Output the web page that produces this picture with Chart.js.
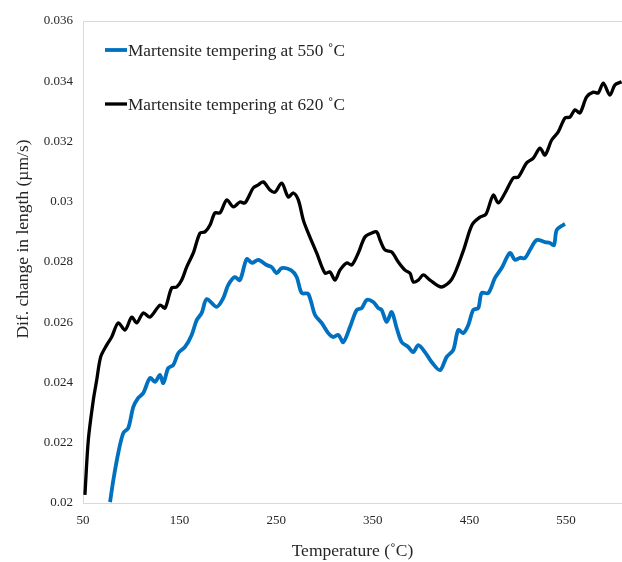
<!DOCTYPE html>
<html>
<head>
<meta charset="utf-8">
<script src="https://cdn.jsdelivr.net/npm/chart.js@4"></script>
<style>
  html, body { margin: 0; padding: 0; background: #fff; overflow: hidden; }
  #myChart { display: block; }
</style>
</head>
<body>
<canvas id="myChart" width="622" height="562"></canvas>
<script>
// temperature (°C) and dif. change in length (µm/s)
var temp550 = [78, 81.4, 86.5, 91.7, 96.9, 102.1, 107.2, 112.4, 119.4, 124.5, 129.7, 133.1, 138.3, 143.5, 148.7,
    155.6, 162.5, 167.7, 172.9, 178.1, 188.4, 195.2, 200.4, 207.3, 212.5, 219.5, 225, 231.5, 240.2, 245.3,
    250.5, 255.7, 265.3, 271.2, 276.4, 283.2, 290.2, 297.1, 303.9, 309.1, 314.3, 319.5, 326.4, 333.3, 338.5,
    343.7, 350.5, 355.7, 359.2, 364.4, 369.6, 374.7, 379.9, 386.7, 391.9, 397.1, 404, 410.9, 419.6, 426.5,
    433.3, 438.5, 443.7, 448.9, 454, 459.2, 462.7, 469.6, 476.5, 483.4, 492, 497.2, 502.4, 507.6, 512.7,
    519.7, 528.3, 533.4, 537.6, 540.4, 547.2, 549];
var len550 = [0.02003, 0.02076, 0.02166, 0.02232, 0.02249, 0.02319, 0.02349, 0.02365, 0.02415, 0.02402,
    0.02425, 0.02398, 0.02448, 0.02458, 0.02498, 0.02518, 0.02558, 0.02607, 0.02631, 0.02677,
    0.02651, 0.02680, 0.02724, 0.02750, 0.02740, 0.02810, 0.02797, 0.02807, 0.02790, 0.02783,
    0.02763, 0.02780, 0.02773, 0.02750, 0.02697, 0.02694, 0.02624, 0.02598, 0.02564, 0.02551,
    0.02558, 0.02534, 0.02584, 0.02641, 0.02647, 0.02674, 0.02667, 0.02647, 0.02641, 0.02601,
    0.02634, 0.02581, 0.02534, 0.02518, 0.02501, 0.02524, 0.02501, 0.02468, 0.02441, 0.02485,
    0.02508, 0.02574, 0.02564, 0.02591, 0.02641, 0.02647, 0.02697, 0.02697, 0.02747, 0.02780,
    0.02830, 0.02807, 0.02814, 0.02813, 0.02840, 0.02873, 0.02866, 0.02863, 0.02856, 0.02906,
    0.02923, 0.02926];

var temp620 = [52, 55.5, 60.7, 64.2, 68.3, 74.5, 79.7, 86.5, 93.5, 100.4, 105.6, 112.4, 119.4, 129.7, 134.9,
    141.8, 147, 152.2, 157.3, 164.2, 171.1, 176.3, 181.5, 186.6, 191.8, 198.8, 205.6, 212.5, 217.7, 226.3,
    231.5, 236.6, 243.6, 248.8, 255.7, 262.5, 267.7, 272.9, 278.1, 283.2, 291.9, 300.5, 305.7, 310.9, 316,
    323, 328.2, 335, 341.9, 348.9, 354, 357.5, 362.6, 369.6, 376.4, 383.3, 388.5, 391.9, 397.1, 402.3,
    409.2, 421.3, 432, 443.7, 452.7, 461, 467.2, 474.7, 479.9, 486.9, 495.4, 500.6, 509.3, 516.2, 523.1,
    528.3, 535.2, 542, 549, 554.1, 559.3, 564.5, 571.4, 578.3, 583.4, 588.6, 595.5, 600.7, 607.6];
var len620 = [0.02027, 0.02209, 0.02342, 0.02408, 0.02485, 0.02524, 0.02551, 0.02598, 0.02574, 0.02617,
    0.02598, 0.02631, 0.02617, 0.02657, 0.02647, 0.02714, 0.02717, 0.02740, 0.02783, 0.02830,
    0.02896, 0.02900, 0.02923, 0.02963, 0.02963, 0.03006, 0.02983, 0.02999, 0.02996, 0.03046,
    0.03056, 0.03066, 0.03039, 0.03032, 0.03062, 0.03016, 0.03029, 0.03006, 0.02939, 0.02896,
    0.02830, 0.02763, 0.02767, 0.02740, 0.02773, 0.02797, 0.02790, 0.02830, 0.02883, 0.02896,
    0.02900, 0.02873, 0.02840, 0.02833, 0.02800, 0.02773, 0.02763, 0.02734, 0.02740, 0.02757,
    0.02740, 0.02717, 0.02744, 0.02837, 0.02923, 0.02949, 0.02959, 0.03022, 0.02996, 0.03029,
    0.03079, 0.03082, 0.03129, 0.03145, 0.03178, 0.03155, 0.03205, 0.03232, 0.03278, 0.03281,
    0.03305, 0.03295, 0.03348, 0.03364, 0.03361, 0.03394, 0.03354, 0.03388, 0.03398];

var seriesNames = ['Martensite tempering at 550 \u02daC', 'Martensite tempering at 620 \u02daC'];
var xTicks = [50, 150, 250, 350, 450, 550];
var yTicks = [0.02, 0.022, 0.024, 0.026, 0.028, 0.03, 0.032, 0.034, 0.036];
var yTitle = 'Dif. change in length (\u00b5m/s)';

function toPoints(xs, ys) {
    var pts = [];
    for (var i = 0; i < xs.length; i++) pts.push({ x: xs[i], y: ys[i] });
    return pts;
}

var FONT = '"Liberation Serif", "Times New Roman", serif';
var TXT = '#262626';

// legend drawn inside the plot, Excel style, plus the y title (sits a bit above centre)
var insideLegend = {
    id: 'insideLegend',
    afterDraw: function (chart) {
        var ctx = chart.ctx;
        var rows = [50, 104];
        ctx.save();
        chart.data.datasets.forEach(function (ds, i) {
            var y = rows[i];
            ctx.strokeStyle = ds.borderColor;
            ctx.lineWidth = ds.borderWidth;
            ctx.beginPath();
            ctx.moveTo(105, y);
            ctx.lineTo(127, y);
            ctx.stroke();
            ctx.fillStyle = TXT;
            ctx.font = '17.3px ' + FONT;
            ctx.textBaseline = 'middle';
            ctx.textAlign = 'left';
            ctx.fillText(ds.label, 128, y + 1);
        });
        ctx.translate(23, 239);
        ctx.rotate(-Math.PI / 2);
        ctx.textAlign = 'center';
        ctx.textBaseline = 'middle';
        ctx.font = '17.5px ' + FONT;
        ctx.fillText(yTitle, 0, 0);
        ctx.restore();
    }
};

var ctx = document.getElementById('myChart').getContext('2d');
var myChart = new Chart(ctx, {
    type: 'line',
    data: {
        datasets: [{
            label: seriesNames[0],
            data: toPoints(temp550, len550),
            borderColor: '#0070C0',
            borderWidth: 3.8,
            pointRadius: 0,
            tension: 0.3,
            fill: false
        }, {
            label: seriesNames[1],
            data: toPoints(temp620, len620),
            borderColor: '#000000',
            borderWidth: 3.3,
            pointRadius: 0,
            tension: 0.3,
            fill: false
        }]
    },
    options: {
        responsive: false,
        animation: false,
        devicePixelRatio: 1,
        layout: { padding: { top: 21, right: 0, left: 0, bottom: 0 } },
        plugins: {
            legend: { display: false },
            tooltip: { enabled: false }
        },
        scales: {
            x: {
                type: 'linear',
                min: 50,
                max: 608,
                afterBuildTicks: function (scale) {
                    scale.ticks = xTicks.map(function (v) { return { value: v }; });
                },
                afterFit: function (scale) { scale.height = 59; },
                grid: { display: false, drawTicks: false },
                border: { display: true, color: '#d9d9d9', width: 1 },
                ticks: {
                    color: TXT,
                    font: { family: FONT, size: 13 },
                    padding: 10,
                    maxRotation: 0
                },
                title: {
                    display: true,
                    text: 'Temperature (\u02daC)',
                    color: TXT,
                    font: { family: FONT, size: 17.5 },
                    padding: { top: 0, bottom: 0 }
                }
            },
            y: {
                min: 0.02,
                max: 0.036,
                afterBuildTicks: function (scale) {
                    scale.ticks = yTicks.map(function (v) { return { value: v }; });
                },
                afterFit: function (scale) { scale.width = 83; },
                grid: {
                    drawTicks: false,
                    color: function (c) {
                        return c.tick && Math.abs(c.tick.value - 0.036) < 1e-9 ? '#d9d9d9' : 'rgba(0,0,0,0)';
                    }
                },
                border: { display: true, color: '#d9d9d9', width: 1 },
                ticks: {
                    color: TXT,
                    font: { family: FONT, size: 13 },
                    padding: 10,
                    callback: function (v) { return String(Number(v.toFixed(3))); }
                },
                title: { display: false }
            }
        }
    },
    plugins: [insideLegend]
});
</script>
</body>
</html>
